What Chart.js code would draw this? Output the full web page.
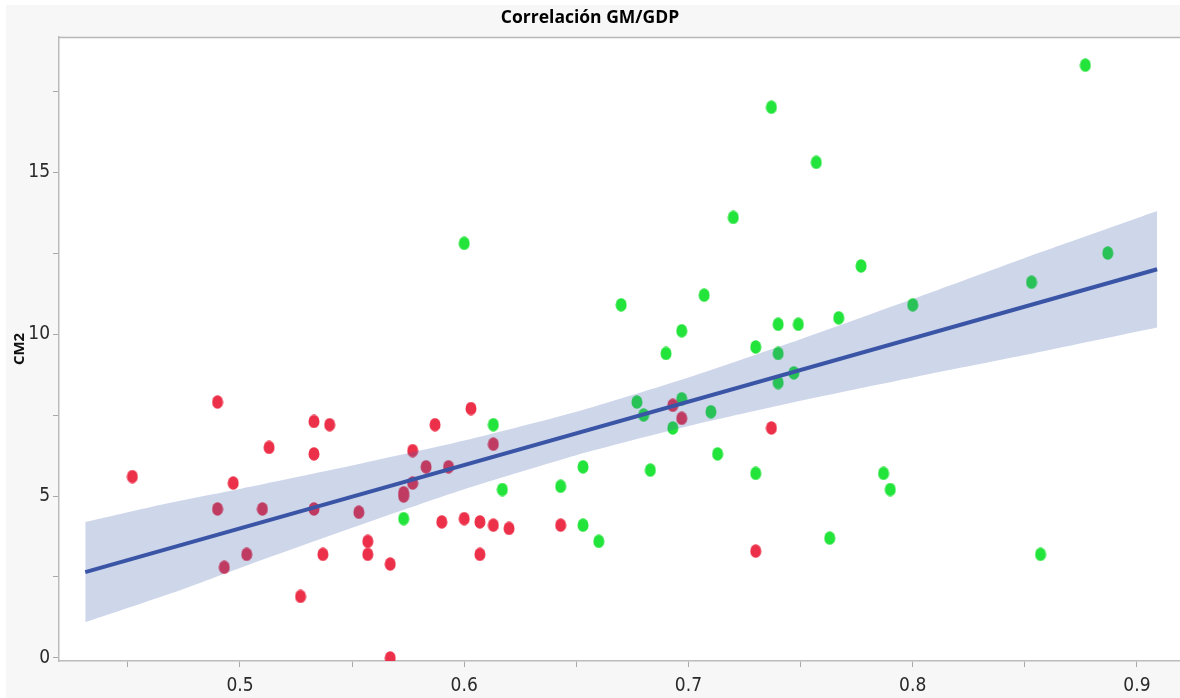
<!DOCTYPE html>
<html><head><meta charset="utf-8">
<script src="https://cdn.jsdelivr.net/npm/chart.js@4.4.1/dist/chart.umd.min.js"></script>
<style>html,body{margin:0;padding:0;background:#fff;overflow:hidden} canvas{display:block}</style>
</head><body>
<canvas id="c" width="1180" height="698"></canvas>
<script>
const chartTitle = 'Correlación GM/GDP';
const yAxisTitle = 'CM2';
const xMajorTicks = [0.5, 0.6, 0.7, 0.8, 0.9];
const xMinorTicks = [0.45, 0.55, 0.65, 0.75, 0.85];
const yMajorTicks = [0, 5, 10, 15];
const yMinorTicks = [2.5, 7.5, 12.5, 17.5];

const redX = [0.452,0.490,0.497,0.490,0.493,0.503,0.510,0.513,0.533,0.540,0.533,0.533,0.537,0.527,0.553,0.557,0.557,0.567,0.567,0.573,0.573,0.577,0.577,0.583,0.587,0.593,0.590,0.600,0.603,0.607,0.607,0.613,0.613,0.620,0.643,0.693,0.697,0.737,0.730];
const redY = [5.6,7.9,5.4,4.6,2.8,3.2,4.6,6.5,7.3,7.2,6.3,4.6,3.2,1.9,4.5,3.6,3.2,2.9,0.0,5.1,5.0,6.4,5.4,5.9,7.2,5.9,4.2,4.3,7.7,4.2,3.2,4.1,6.6,4.0,4.1,7.8,7.4,7.1,3.3];

const greenX = [0.573,0.600,0.613,0.617,0.643,0.653,0.653,0.660,0.670,0.677,0.680,0.683,0.690,0.693,0.697,0.697,0.707,0.710,0.713,0.720,0.730,0.730,0.737,0.740,0.740,0.740,0.747,0.749,0.757,0.763,0.767,0.777,0.787,0.790,0.800,0.853,0.857,0.877,0.887];
const greenY = [4.3,12.8,7.2,5.2,5.3,5.9,4.1,3.6,10.9,7.9,7.5,5.8,9.4,7.1,8.0,10.1,11.2,7.6,6.3,13.6,9.6,5.7,17.0,10.3,9.4,8.5,8.8,10.3,15.3,3.7,10.5,12.1,5.7,5.2,10.9,11.6,3.2,18.3,12.5];

const fitX = [0.431, 0.909];
const fitY = [2.65, 12.0];

const bandX     = [0.431, 0.47, 0.50, 0.55, 0.60, 0.65, 0.70, 0.75, 0.80, 0.85, 0.909];
const bandUpper = [4.20, 4.81, 5.22, 5.94, 6.71, 7.60, 8.66, 9.84, 11.08, 12.35, 13.80];
const bandLower = [1.10, 2.01, 2.78, 4.02, 5.21, 6.26, 7.16, 7.94, 8.66, 9.35, 10.20];

function pts(xs, ys){ return xs.map((x,i)=>({x:x, y:ys[i]})); }
function dot(color){
  const c=document.createElement('canvas'); c.width=12; c.height=14;
  const g=c.getContext('2d'); g.fillStyle=color; g.beginPath();
  g.ellipse(6,7,5.5,6.8,0,0,Math.PI*2); g.fill(); return c;
}
const near=(a,list)=>list.some(v=>Math.abs(v-a)<1e-6);
const tickFont = {family:"'Liberation Sans Narrow', 'DejaVu Sans Condensed', 'Open Sans'", size:19};

const bgPlugin = {
  id:'bg',
  beforeDraw(chart){
    const {ctx, chartArea:a} = chart;
    ctx.save();
    ctx.fillStyle='#ffffff'; ctx.fillRect(0,0,chart.width,chart.height);
    ctx.fillStyle='#f7f7f7'; ctx.fillRect(6,5,chart.width-6,chart.height-5);
    ctx.fillStyle='#ffffff'; ctx.fillRect(a.left,a.top,chart.width-a.left,a.bottom-a.top);
    ctx.restore();
  },
  afterDraw(chart){
    const {ctx, chartArea:a} = chart;
    ctx.save(); ctx.strokeStyle='#b8b8b8'; ctx.lineWidth=1.5;
    ctx.beginPath(); ctx.moveTo(a.left, a.top+0.5); ctx.lineTo(chart.width, a.top+0.5); ctx.stroke();
    ctx.restore();
  }
};

new Chart(document.getElementById('c'), {
  type:'scatter',
  data:{ datasets:[
    { type:'line', data:pts(fitX,fitY), borderColor:'#3a55a6', borderWidth:4, pointRadius:0, fill:false, order:0 },
    { type:'line', data:pts(bandX,bandUpper), borderWidth:0, borderColor:'rgba(0,0,0,0)', pointRadius:0, tension:0.2,
      fill:{target:'+1'}, backgroundColor:'rgba(60,90,170,0.25)', order:1 },
    { type:'line', data:pts(bandX,bandLower), borderWidth:0, borderColor:'rgba(0,0,0,0)', pointRadius:0, tension:0.2, fill:false, order:1 },
    { data:pts(redX,redY), pointStyle:dot('#ec3049'), pointRadius:6, order:2 },
    { data:pts(greenX,greenY), pointStyle:dot('#23e43a'), pointRadius:6, order:3 }
  ]},
  options:{
    responsive:false, devicePixelRatio:1, animation:false,
    layout:{autoPadding:false, padding:{left:0,right:0,top:0,bottom:0}},
    plugins:{
      legend:{display:false}, tooltip:{enabled:false},
      title:{display:true, text:chartTitle, color:'#000', font:{family:'Open Sans', size:17.5, weight:'bold', lineHeight:1.3}, padding:{top:7,bottom:7.2}}
    },
    scales:{
      x:{ type:'linear', min:0.4193, max:0.9192,
        afterBuildTicks(s){ s.ticks = [...xMinorTicks, ...xMajorTicks].sort((a,b)=>a-b).map(v=>({value:v})); },
        afterFit(s){ s.height = 37; s.paddingLeft = 0; s.paddingRight = 0; },
        ticks:{ autoSkip:false, maxRotation:0, padding:8, color:'#2a2a2a', font:tickFont,
          callback:(v)=> near(v,xMajorTicks) ? v.toFixed(1) : '' },
        grid:{ drawOnChartArea:false, drawTicks:true, tickLength:6, tickColor:'#a8a8a8', tickWidth:1 },
        border:{ display:true, color:'#bcbcbc', width:1.5 }
      },
      y:{ type:'linear', min:-0.093, max:19.17,
        afterBuildTicks(s){ s.ticks = [...yMajorTicks, ...yMinorTicks].sort((a,b)=>a-b).map(v=>({value:v})); },
        afterFit(s){ s.width = 59; s.paddingTop = 0; s.paddingBottom = 0; },
        ticks:{ autoSkip:false, padding:3, color:'#2a2a2a', font:tickFont,
          callback:(v)=> near(v,yMajorTicks) ? String(v) : '' },
        grid:{ drawOnChartArea:false, drawTicks:true, tickLength:6, tickColor:'#a8a8a8', tickWidth:1 },
        border:{ display:true, color:'#bcbcbc', width:1.5 },
        title:{ display:true, text:yAxisTitle, color:'#111', font:{family:'Open Sans', size:15, weight:'bold'}, padding:{top:11,bottom:0} }
      }
    }
  },
  plugins:[bgPlugin]
});
</script>
</body></html>
